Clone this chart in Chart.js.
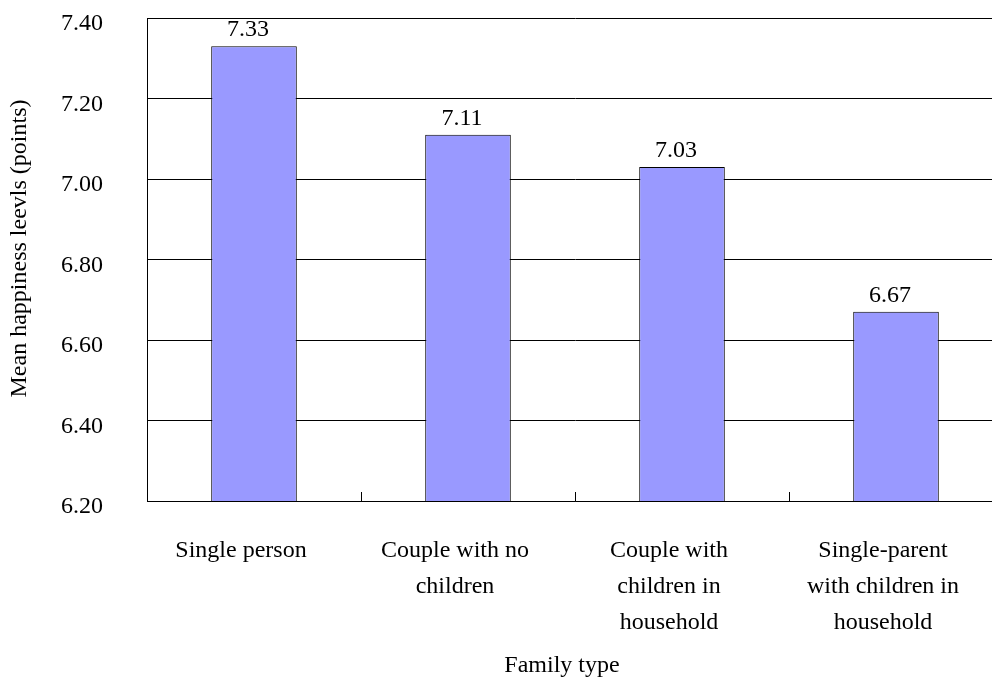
<!DOCTYPE html>
<html>
<head>
<meta charset="utf-8">
<script src="https://cdn.jsdelivr.net/npm/chart.js@4"></script>
<style>
  html, body { margin: 0; padding: 0; background: #fff; overflow: hidden; }
  canvas { display: block; }
</style>
</head>
<body>
<canvas id="c" width="1010" height="681"></canvas>
<script>
// Family types (wrapped onto several lines) and their mean happiness scores
const familyTypes = [
  ['Single person'],
  ['Couple with no', 'children'],
  ['Couple with', 'children in', 'household'],
  ['Single-parent', 'with children in', 'household']
];
const happiness = [7.33, 7.11, 7.03, 6.67];
const yTicks = [6.20, 6.40, 6.60, 6.80, 7.00, 7.20, 7.40];
const yAxisTitle = 'Mean happiness leevls (points)';
const xAxisTitle = 'Family type';

const FONT = '"Liberation Serif", "Times New Roman", serif';
Chart.defaults.font.family = FONT;
Chart.defaults.font.size = 24;
Chart.defaults.color = '#000';

// Value labels, inward category ticks and the axis titles
const decorations = {
  id: 'decorations',
  afterDatasetsDraw(chart) {
    const ctx = chart.ctx;
    const area = chart.chartArea;
    const xs = chart.scales.x;
    ctx.save();
    // small upward ticks on the category axis between groups
    ctx.strokeStyle = '#000';
    ctx.lineWidth = 1;
    for (let i = 1; i < familyTypes.length; i++) {
      const x = Math.round((xs.getPixelForValue(i - 1) + xs.getPixelForValue(i)) / 2) + 0.5;
      ctx.beginPath();
      ctx.moveTo(x, area.bottom - 9);
      ctx.lineTo(x, area.bottom);
      ctx.stroke();
    }
    // bar value labels
    ctx.fillStyle = '#000';
    ctx.font = '24px ' + FONT;
    ctx.textAlign = 'center';
    ctx.textBaseline = 'alphabetic';
    chart.getDatasetMeta(0).data.forEach((bar, i) => {
      ctx.fillText(happiness[i].toFixed(2), bar.x - 6, bar.y - 10);
    });
    ctx.restore();
  },
  afterDraw(chart) {
    const ctx = chart.ctx;
    const area = chart.chartArea;
    ctx.save();
    ctx.fillStyle = '#000';
    ctx.font = '24px ' + FONT;
    ctx.textAlign = 'center';
    ctx.textBaseline = 'middle';
    ctx.fillText(xAxisTitle, (area.left + area.right) / 2 - 13, 666);
    ctx.translate(20, (area.top + area.bottom) / 2 - 11);
    ctx.rotate(-Math.PI / 2);
    ctx.fillText(yAxisTitle, 0, 0);
    ctx.restore();
  }
};

new Chart(document.getElementById('c'), {
  type: 'bar',
  data: {
    labels: familyTypes,
    datasets: [{
      data: happiness,
      backgroundColor: '#9999FF',
      borderColor: '#000000',
      borderWidth: 1,
      barPercentage: 0.4,
      categoryPercentage: 1.0
    }]
  },
  options: {
    responsive: false,
    animation: false,
    layout: { padding: { top: 18, right: 7, bottom: 0, left: 0 } },
    plugins: {
      legend: { display: false },
      tooltip: { enabled: false }
    },
    scales: {
      x: {
        grid: { display: false, drawTicks: false },
        border: { display: true, color: '#000', width: 1 },
        ticks: {
          padding: 32,
          labelOffset: -13,
          maxRotation: 0,
          autoSkip: false,
          font: { size: 24, lineHeight: 1.5 }
        },
        afterFit(scale) { scale.height = 180; }
      },
      y: {
        min: 6.2,
        max: 7.4,
        grid: { color: '#000', lineWidth: 1, drawTicks: true, tickLength: 44, tickColor: 'rgba(0,0,0,0)' },
        border: { display: true, color: '#000', width: 1 },
        ticks: {
          padding: 0,
          labelOffset: 6,
          font: { size: 24 },
          callback: v => Number(v).toFixed(2)
        },
        afterBuildTicks(scale) { scale.ticks = yTicks.map(v => ({ value: v })); },
        afterFit(scale) { scale.width = 147; }
      }
    }
  },
  plugins: [decorations]
});
</script>
</body>
</html>
